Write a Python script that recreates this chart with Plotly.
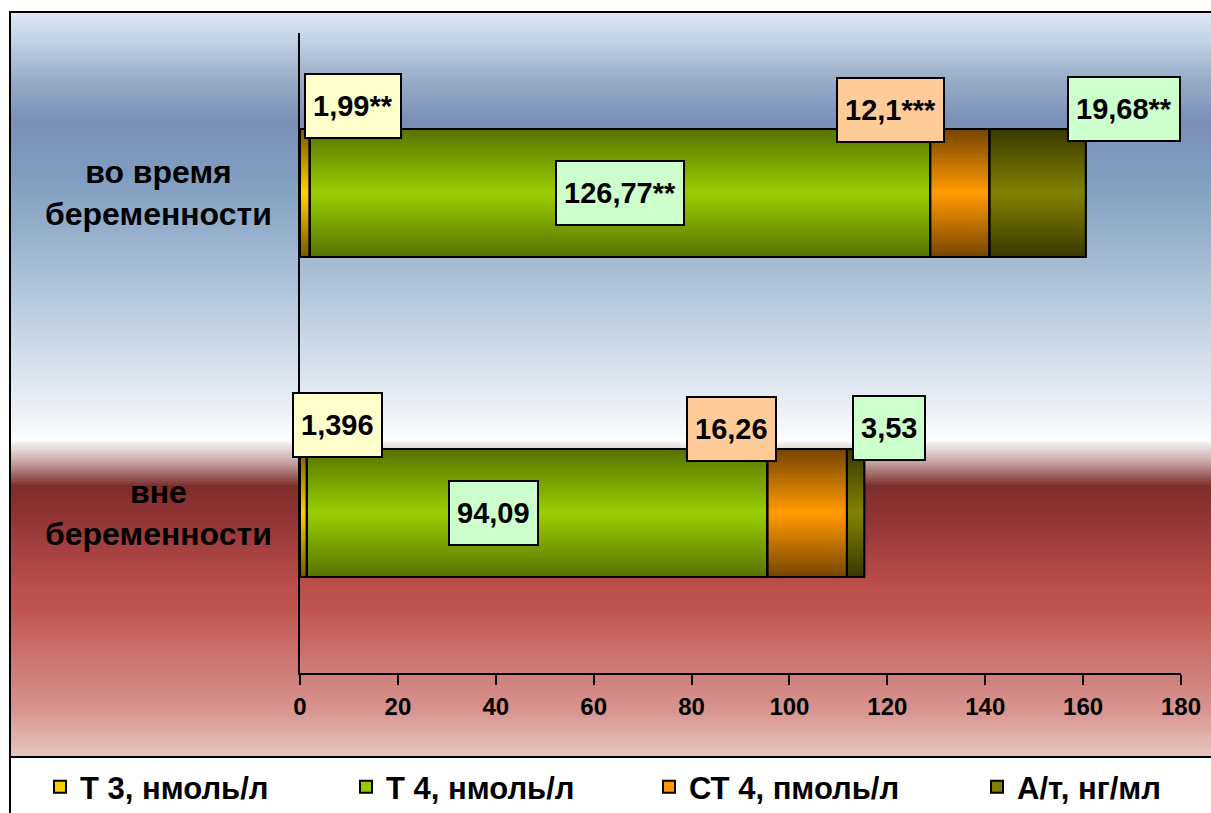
import plotly.graph_objects as go

# ---- data -------------------------------------------------------------
categories = ["вне беременности", "во время беременности"]
category_labels = ["вне<br>беременности", "во время<br>беременности"]

series_names = ["Т 3, нмоль/л", "Т 4, нмоль/л", "СТ 4, пмоль/л", "А/т, нг/мл"]
t3_values = [1.396, 1.99]
t4_values = [94.09, 126.77]
ct4_values = [16.26, 12.1]
at_values = [3.53, 19.68]

t3_labels = ["1,396", "1,99**"]
t4_labels = ["94,09", "126,77**"]
ct4_labels = ["16,26", "12,1***"]
at_labels = ["3,53", "19,68**"]

x_ticks = [0, 20, 40, 60, 80, 100, 120, 140, 160, 180]

# ---- styling ----------------------------------------------------------
FONT = "Liberation Sans, Arial, sans-serif"
W, H = 1211, 813
PL, PR, PT, PB = 300, 1181, 33, 673          # plot area in pixels


def xp(px):
    return (px - PL) / (PR - PL)


def yp(py):
    return (PB - py) / (PB - PT)


def hex2rgb(h):
    h = h.lstrip("#")
    return tuple(int(h[i:i + 2], 16) for i in (0, 2, 4))


def mix(c1, c2, t):
    a, b = hex2rgb(c1), hex2rgb(c2)
    return "rgb(%d,%d,%d)" % tuple(round(a[i] + (b[i] - a[i]) * t) for i in range(3))


# (edge colour, centre colour) of each series' vertical shading
shades = [("#7a5c00", "#ffcc00"),
          ("#587500", "#99cc00"),
          ("#794600", "#ff9900"),
          ("#3b3b00", "#808000")]
label_fill = ["#ffffcc", "#ccffcc", "#ffcc99", "#ccffcc"]

values = [t3_values, t4_values, ct4_values, at_values]
labels = [t3_labels, t4_labels, ct4_labels, at_labels]

# where each value box sits: x in axis units, y in category units
label_x = [[7.6, 10.8], [39.6, 65.4], [88.1, 120.6], [120.4, 168.4]]
label_y = [[0.275, 1.272], [0.0, 1.0], [0.2625, 1.259], [0.266, 1.264]]

# left edge (px) of each legend entry
legend_left = [40, 346, 649, 977]
legend_ids = ["legend", "legend2", "legend3", "legend4"]

BAR_W = 0.4
N_LAYERS = 18

fig = go.Figure()

# cumulative bases for the stacked segments
bases = []
run = [0.0] * len(categories)
for vals in values:
    bases.append(list(run))
    run = [r + v for r, v in zip(run, vals)]

for s, vals in enumerate(values):
    edge, centre = shades[s]
    # legend swatch (hidden beneath the shaded layers)
    fig.add_trace(go.Bar(
        y=categories, x=vals, base=bases[s], orientation="h",
        width=[BAR_W] * len(categories), name=series_names[s],
        marker=dict(color=centre, line=dict(color="black", width=2)),
        legend=legend_ids[s], showlegend=True, hoverinfo="skip"))
    # vertical shading: nested bars from dark edge to bright centre
    for k in range(N_LAYERS):
        t = k / (N_LAYERS - 1)
        w = BAR_W * (1 - k / N_LAYERS)
        fig.add_trace(go.Bar(
            y=categories, x=vals, base=bases[s], orientation="h",
            width=[w] * len(categories),
            marker=dict(color=mix(edge, centre, t), line=dict(width=0)),
            showlegend=False, hoverinfo="skip"))

# segment outlines on top
for s, vals in enumerate(values):
    fig.add_trace(go.Bar(
        y=categories, x=vals, base=bases[s], orientation="h",
        width=[BAR_W] * len(categories),
        marker=dict(color="rgba(0,0,0,0)", line=dict(color="black", width=2)),
        showlegend=False, hoverinfo="skip"))

# ---- background gradient ---------------------------------------------
stops = [(11, "#dfe9f4"), (40, "#c3d3e5"), (80, "#98acc9"), (120, "#7a8fb8"),
         (170, "#7e9bbf"), (230, "#94afcb"), (300, "#b6c9dd"), (370, "#d8e2ed"),
         (430, "#f6f8fb"), (441, "#ffffff"), (443, "#f3eeee"), (450, "#e3d3d3"),
         (458, "#d1b6b5"), (466, "#bb9291"), (474, "#a06a69"), (480, "#8e4b4a"),
         (486, "#7f2c2c"), (520, "#933535"), (580, "#b84c49"), (610, "#c05550"),
         (660, "#cc7671"), (710, "#d7948f"), (757, "#e7c6c2")]


def colour_at(py):
    for (y0, c0), (y1, c1) in zip(stops, stops[1:]):
        if y0 <= py <= y1:
            return mix(c0, c1, (py - y0) / (y1 - y0))
    return stops[-1][1]


shapes = []
step = 2
py = 11
while py < 757:
    shapes.append(dict(type="rect", xref="paper", yref="paper", layer="below",
                       x0=xp(9), x1=xp(1215), y0=yp(py), y1=yp(min(py + step, 757)),
                       fillcolor=colour_at(py + step / 2), line=dict(width=0)))
    py += step

# outer frame and the rule above the legend
shapes.append(dict(type="rect", xref="paper", yref="paper", layer="above",
                   x0=xp(10), x1=xp(1216), y0=yp(12), y1=yp(818),
                   line=dict(color="black", width=2), fillcolor="rgba(0,0,0,0)"))
shapes.append(dict(type="line", xref="paper", yref="paper", layer="above",
                   x0=xp(9), x1=xp(1216), y0=yp(757), y1=yp(757),
                   line=dict(color="black", width=2)))

# ---- annotations -----------------------------------------------------
annotations = []
for c, lab in enumerate(category_labels):
    annotations.append(dict(xref="paper", yref="y", x=xp(158), y=c, text=lab,
                            showarrow=False, align="center",
                            xanchor="center", yanchor="middle",
                            font=dict(family=FONT, size=32, color="black", weight="bold")))

for s in range(len(values)):
    for c in range(len(categories)):
        annotations.append(dict(
            xref="x", yref="y", x=label_x[s][c], y=label_y[s][c],
            text=labels[s][c], showarrow=False,
            xanchor="center", yanchor="middle",
            bgcolor=label_fill[s], bordercolor="black", borderwidth=2,
            borderpad=7, height=48,
            font=dict(family=FONT, size=29, color="black", weight="bold")))

legend_font = dict(family=FONT, size=31, color="black", weight="bold")
legends = {}
for i, lid in enumerate(legend_ids):
    legends[lid] = dict(orientation="h", x=xp(legend_left[i]), y=yp(787),
                        xanchor="left", yanchor="middle",
                        bgcolor="rgba(0,0,0,0)", font=legend_font)

fig.update_layout(
    width=W, height=H,
    margin=dict(l=PL, r=W - PR, t=PT, b=H - PB, pad=0, autoexpand=False),
    barmode="overlay",
    paper_bgcolor="white", plot_bgcolor="rgba(0,0,0,0)",
    font=dict(family=FONT, color="black"),
    shapes=shapes, annotations=annotations,
    showlegend=True,
    xaxis=dict(range=[0, 180], tickvals=x_ticks, ticktext=[str(v) for v in x_ticks],
               showgrid=False, zeroline=False, showline=True, linecolor="black",
               linewidth=2, ticks="outside", ticklen=10, tickwidth=2, tickcolor="black",
               ticklabelstandoff=1,
               tickfont=dict(family=FONT, size=24, color="black", weight="bold")),
    yaxis=dict(range=[-0.5, 1.5], type="category", categoryorder="array",
               categoryarray=categories, showgrid=False, zeroline=False,
               showline=True, linecolor="black", linewidth=2,
               ticks="", showticklabels=False),
    **legends,
)

fig.write_html("out.html")
